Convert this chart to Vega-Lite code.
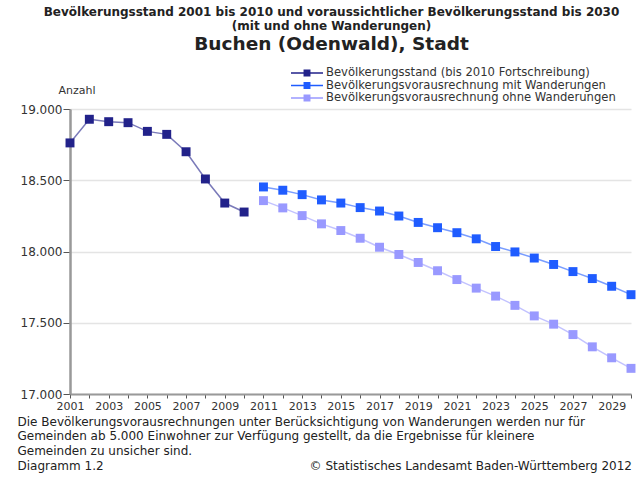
{
  "$schema": "https://vega.github.io/schema/vega-lite/v6.json",
  "width": 561,
  "height": 285,
  "autosize": {"type": "none"},
  "padding": {"top": 109, "left": 70, "right": 12, "bottom": 83},
  "background": "white",
  "config": {
    "font": "DejaVu Sans",
    "view": {"stroke": null},
    "axis": {"labelFont": "DejaVu Sans", "titleFont": "DejaVu Sans", "labelColor": "#333333", "titleColor": "#222222"}
  },
  "title": {
    "text": ["Bevölkerungsstand 2001 bis 2010 und voraussichtlicher Bevölkerungsstand bis 2030", "(mit und ohne Wanderungen)"],
    "subtitle": "Buchen (Odenwald), Stadt",
    "anchor": "middle",
    "dx": -19,
    "offset": 13,
    "font": "DejaVu Sans",
    "fontSize": 12,
    "fontWeight": "bold",
    "color": "#222222",
    "lineHeight": 13.5,
    "subtitleFont": "DejaVu Sans",
    "subtitleFontSize": 18.5,
    "subtitleFontWeight": "bold",
    "subtitleColor": "#222222",
    "subtitlePadding": 2
  },
  "data": {
    "values": [
      {"year": 2001, "value": 18762, "series": "Bevölkerungsstand (bis 2010 Fortschreibung)"},
      {"year": 2002, "value": 18928, "series": "Bevölkerungsstand (bis 2010 Fortschreibung)"},
      {"year": 2003, "value": 18911, "series": "Bevölkerungsstand (bis 2010 Fortschreibung)"},
      {"year": 2004, "value": 18904, "series": "Bevölkerungsstand (bis 2010 Fortschreibung)"},
      {"year": 2005, "value": 18843, "series": "Bevölkerungsstand (bis 2010 Fortschreibung)"},
      {"year": 2006, "value": 18822, "series": "Bevölkerungsstand (bis 2010 Fortschreibung)"},
      {"year": 2007, "value": 18700, "series": "Bevölkerungsstand (bis 2010 Fortschreibung)"},
      {"year": 2008, "value": 18509, "series": "Bevölkerungsstand (bis 2010 Fortschreibung)"},
      {"year": 2009, "value": 18340, "series": "Bevölkerungsstand (bis 2010 Fortschreibung)"},
      {"year": 2010, "value": 18277, "series": "Bevölkerungsstand (bis 2010 Fortschreibung)"},
      {"year": 2011, "value": 18453, "series": "Bevölkerungsvorausrechnung mit Wanderungen"},
      {"year": 2012, "value": 18430, "series": "Bevölkerungsvorausrechnung mit Wanderungen"},
      {"year": 2013, "value": 18399, "series": "Bevölkerungsvorausrechnung mit Wanderungen"},
      {"year": 2014, "value": 18362, "series": "Bevölkerungsvorausrechnung mit Wanderungen"},
      {"year": 2015, "value": 18340, "series": "Bevölkerungsvorausrechnung mit Wanderungen"},
      {"year": 2016, "value": 18308, "series": "Bevölkerungsvorausrechnung mit Wanderungen"},
      {"year": 2017, "value": 18284, "series": "Bevölkerungsvorausrechnung mit Wanderungen"},
      {"year": 2018, "value": 18249, "series": "Bevölkerungsvorausrechnung mit Wanderungen"},
      {"year": 2019, "value": 18204, "series": "Bevölkerungsvorausrechnung mit Wanderungen"},
      {"year": 2020, "value": 18167, "series": "Bevölkerungsvorausrechnung mit Wanderungen"},
      {"year": 2021, "value": 18132, "series": "Bevölkerungsvorausrechnung mit Wanderungen"},
      {"year": 2022, "value": 18089, "series": "Bevölkerungsvorausrechnung mit Wanderungen"},
      {"year": 2023, "value": 18035, "series": "Bevölkerungsvorausrechnung mit Wanderungen"},
      {"year": 2024, "value": 17997, "series": "Bevölkerungsvorausrechnung mit Wanderungen"},
      {"year": 2025, "value": 17954, "series": "Bevölkerungsvorausrechnung mit Wanderungen"},
      {"year": 2026, "value": 17909, "series": "Bevölkerungsvorausrechnung mit Wanderungen"},
      {"year": 2027, "value": 17859, "series": "Bevölkerungsvorausrechnung mit Wanderungen"},
      {"year": 2028, "value": 17810, "series": "Bevölkerungsvorausrechnung mit Wanderungen"},
      {"year": 2029, "value": 17756, "series": "Bevölkerungsvorausrechnung mit Wanderungen"},
      {"year": 2030, "value": 17697, "series": "Bevölkerungsvorausrechnung mit Wanderungen"},
      {"year": 2011, "value": 18357, "series": "Bevölkerungsvorausrechnung ohne Wanderungen"},
      {"year": 2012, "value": 18306, "series": "Bevölkerungsvorausrechnung ohne Wanderungen"},
      {"year": 2013, "value": 18252, "series": "Bevölkerungsvorausrechnung ohne Wanderungen"},
      {"year": 2014, "value": 18194, "series": "Bevölkerungsvorausrechnung ohne Wanderungen"},
      {"year": 2015, "value": 18147, "series": "Bevölkerungsvorausrechnung ohne Wanderungen"},
      {"year": 2016, "value": 18093, "series": "Bevölkerungsvorausrechnung ohne Wanderungen"},
      {"year": 2017, "value": 18030, "series": "Bevölkerungsvorausrechnung ohne Wanderungen"},
      {"year": 2018, "value": 17979, "series": "Bevölkerungsvorausrechnung ohne Wanderungen"},
      {"year": 2019, "value": 17923, "series": "Bevölkerungsvorausrechnung ohne Wanderungen"},
      {"year": 2020, "value": 17865, "series": "Bevölkerungsvorausrechnung ohne Wanderungen"},
      {"year": 2021, "value": 17803, "series": "Bevölkerungsvorausrechnung ohne Wanderungen"},
      {"year": 2022, "value": 17743, "series": "Bevölkerungsvorausrechnung ohne Wanderungen"},
      {"year": 2023, "value": 17687, "series": "Bevölkerungsvorausrechnung ohne Wanderungen"},
      {"year": 2024, "value": 17622, "series": "Bevölkerungsvorausrechnung ohne Wanderungen"},
      {"year": 2025, "value": 17548, "series": "Bevölkerungsvorausrechnung ohne Wanderungen"},
      {"year": 2026, "value": 17490, "series": "Bevölkerungsvorausrechnung ohne Wanderungen"},
      {"year": 2027, "value": 17417, "series": "Bevölkerungsvorausrechnung ohne Wanderungen"},
      {"year": 2028, "value": 17331, "series": "Bevölkerungsvorausrechnung ohne Wanderungen"},
      {"year": 2029, "value": 17254, "series": "Bevölkerungsvorausrechnung ohne Wanderungen"},
      {"year": 2030, "value": 17180, "series": "Bevölkerungsvorausrechnung ohne Wanderungen"}
    ]
  },
  "encoding": {
    "x": {
      "field": "year",
      "type": "quantitative",
      "scale": {"domain": [2001, 2030], "nice": false, "zero": false},
      "axis": {
        "values": [2001, 2002, 2003, 2004, 2005, 2006, 2007, 2008, 2009, 2010, 2011, 2012, 2013, 2014, 2015, 2016, 2017, 2018, 2019, 2020, 2021, 2022, 2023, 2024, 2025, 2026, 2027, 2028, 2029, 2030],
        "labelExpr": "datum.value % 2 == 1 ? format(datum.value, 'd') : ''",
        "labelFontSize": 11,
        "labelPadding": 2,
        "labelOverlap": false,
        "labelFlush": false,
        "grid": false,
        "domainColor": "#999999",
        "domainWidth": 2,
        "tickColor": "#555555",
        "tickSize": 4,
        "tickWidth": 1,
        "title": ["Die Bevölkerungsvorausrechnungen unter Berücksichtigung von Wanderungen werden nur für", "Gemeinden ab 5.000 Einwohner zur Verfügung gestellt, da die Ergebnisse für kleinere", "Gemeinden zu unsicher sind.", "Diagramm 1.2\u00a0\u00a0\u00a0\u00a0\u00a0\u00a0\u00a0\u00a0\u00a0\u00a0\u00a0\u00a0\u00a0\u00a0\u00a0\u00a0\u00a0\u00a0\u00a0\u00a0\u00a0\u00a0\u00a0\u00a0\u00a0\u00a0\u00a0\u00a0\u00a0\u00a0\u00a0\u00a0\u00a0\u00a0\u00a0\u00a0\u00a0\u00a0\u00a0\u00a0\u00a0\u00a0\u00a0\u00a0\u00a0\u00a0\u00a0\u00a0\u00a0\u00a0\u00a0\u00a0\u00a0\u00a0© Statistisches Landesamt Baden-Württemberg 2012"],
        "titleFontSize": 12,
        "titleFontWeight": "normal",
        "titleAnchor": "start",
        "titleAlign": "left",
        "titleBaseline": "top",
        "titleX": -53,
        "titleY": 22,
        "titleLineHeight": 14.7,
        "titleColor": "#222222"
      }
    },
    "y": {
      "field": "value",
      "type": "quantitative",
      "scale": {"domain": [17000, 19000], "nice": false, "zero": false},
      "axis": {
        "values": [17000, 17500, 18000, 18500, 19000],
        "labelExpr": "replace(format(datum.value, ',d'), ',', '.')",
        "labelFontSize": 12,
        "labelPadding": 1,
        "gridColor": "#e4e4e4",
        "gridWidth": 1.5,
        "domainColor": "#999999",
        "domainWidth": 2.5,
        "tickColor": "#555555",
        "tickSize": 7,
        "tickWidth": 1,
        "title": "Anzahl",
        "titleAngle": 0,
        "titleAlign": "left",
        "titleBaseline": "middle",
        "titleX": -12,
        "titleY": -19,
        "titleFontSize": 11,
        "titleFontWeight": "normal",
        "titleColor": "#333333"
      }
    },
    "color": {
      "field": "series",
      "type": "nominal",
      "scale": {
        "domain": ["Bevölkerungsstand (bis 2010 Fortschreibung)", "Bevölkerungsvorausrechnung mit Wanderungen", "Bevölkerungsvorausrechnung ohne Wanderungen"],
        "range": ["#22228a", "#1f5cff", "#9999ff"]
      },
      "legend": {
        "orient": "none",
        "legendX": 220,
        "legendY": -42,
        "title": null,
        "symbolType": "M-1,0H1M-0.17,-0.17H0.17V0.17H-0.17Z",
        "symbolSize": 1024,
        "symbolStrokeWidth": 1.5,
        "symbolOpacity": 1,
        "clipHeight": 12,
        "rowPadding": 0.5,
        "labelFont": "DejaVu Sans",
        "labelFontSize": 11.6,
        "labelColor": "#333333",
        "labelOffset": 2,
        "labelLimit": 400
      }
    }
  },
  "layer": [
    {
      "mark": {"type": "line", "strokeWidth": 1.5, "opacity": 0.6},
      "encoding": {"detail": {"field": "series"}}
    },
    {
      "mark": {"type": "point", "shape": "square", "filled": true, "size": 80, "opacity": 1}
    }
  ]
}
